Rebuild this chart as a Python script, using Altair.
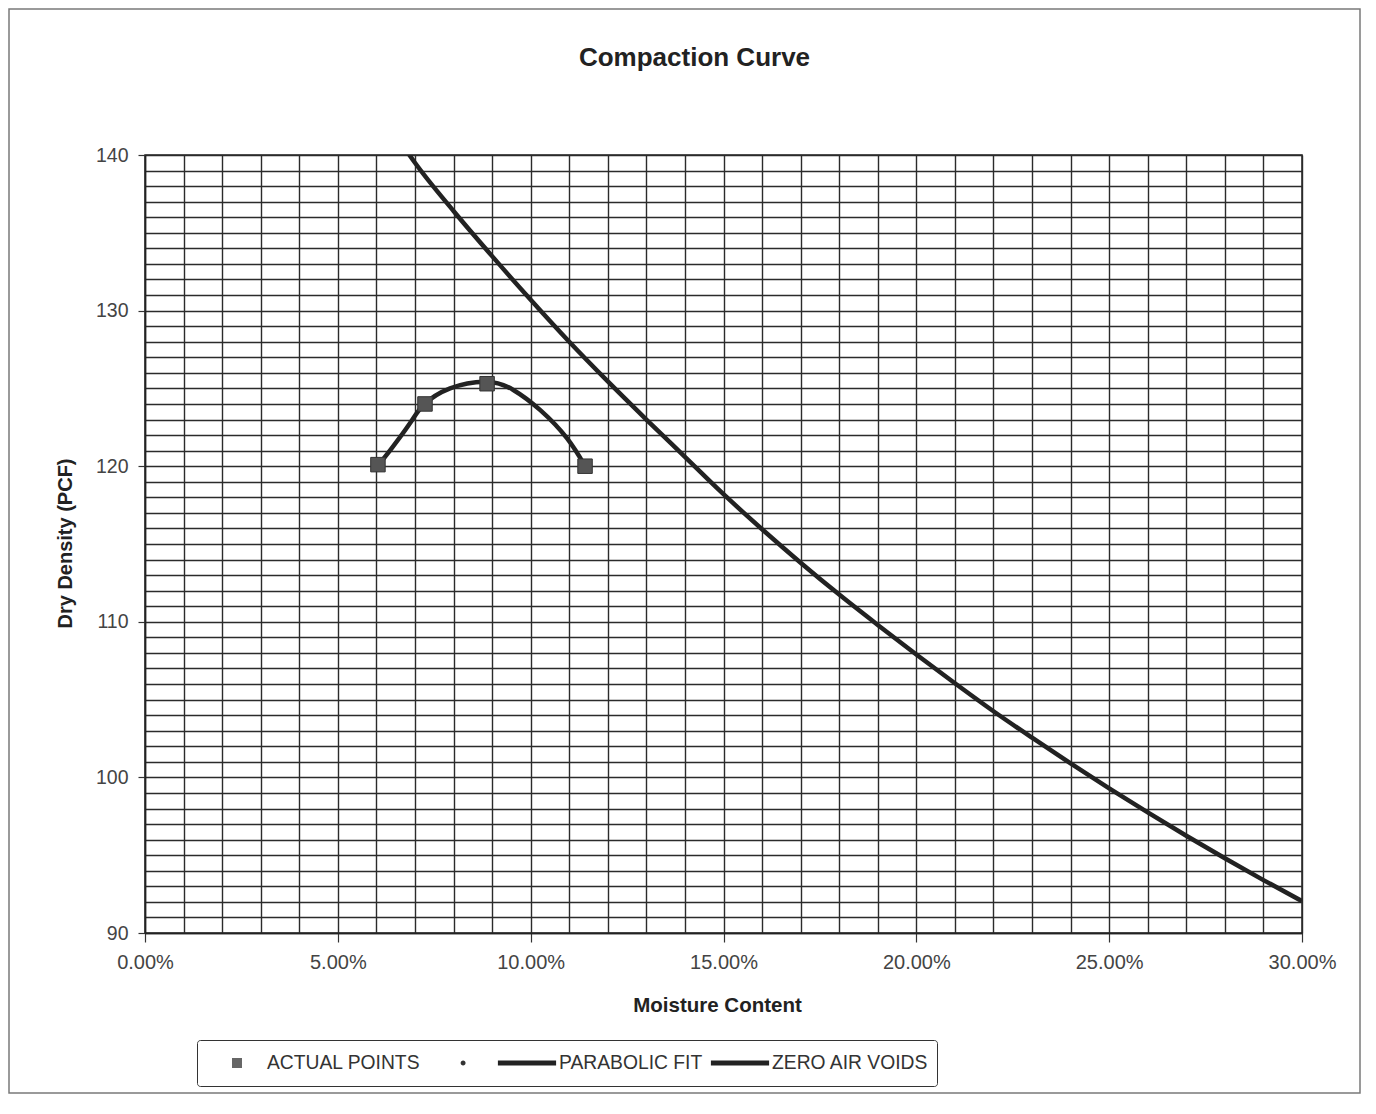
import altair as alt
import pandas as pd

# ---- data ----
actual_w = [0.0604, 0.0726, 0.0887, 0.1141]
actual_d = [120.1, 124.0, 125.3, 120.0]

fit_w = [0.0605, 0.0636, 0.0687, 0.0722, 0.0791, 0.0886, 0.0955, 0.1025, 0.1094, 0.1141]
fit_d = [120.08, 121.04, 122.76, 123.93, 125.0, 125.43, 124.9, 123.6, 121.8, 120.01]

zav_w = [0.068, 0.07, 0.08, 0.09, 0.10, 0.11, 0.12, 0.13, 0.14, 0.15, 0.16, 0.17,
         0.18, 0.19, 0.20, 0.21, 0.22, 0.23, 0.24, 0.25, 0.26, 0.27, 0.28, 0.29, 0.30]
zav_d = [140.2, 139.5, 136.4, 133.5, 130.7, 128.0, 125.45, 123.0, 120.6, 118.2, 115.95, 113.8,
         111.75, 109.8, 107.9, 106.05, 104.25, 102.55, 100.9, 99.3, 97.75, 96.25, 94.8, 93.4, 92.05]

legend_names = ["ACTUAL POINTS", " ", "PARABOLIC FIT", "ZERO AIR VOIDS"]
x_grid = [i / 100 for i in range(0, 31)]
y_grid = list(range(90, 141))

FONT = "Liberation Sans"
W, H = 1157, 778

pts = pd.DataFrame({"w": actual_w, "d": actual_d, "series": ["ACTUAL POINTS"] * len(actual_w)})
fit = pd.DataFrame({"w": fit_w, "d": fit_d})
zav = pd.DataFrame({"w": zav_w, "d": zav_d})
frame_df = pd.DataFrame({"k": [0]})

xscale = alt.Scale(domain=[0, 0.30], nice=False, zero=False)
yscale = alt.Scale(domain=[90, 140], nice=False, zero=False)

x_axis = alt.Axis(
    values=x_grid, format=".2%",
    labelExpr="round(datum.value*100) % 5 === 0 ? datum.label : ''",
    labelOverlap=False, labelFlush=False,
    grid=True, gridColor="#2b2b2b", gridWidth=1.4,
    tickColor="#333", tickSize=9, tickWidth=1.2,
    tickOpacity={"condition": {"test": "round(datum.value*100) % 5 === 0", "value": 1}, "value": 0},
    labelFont=FONT, labelFontSize=20, labelColor="#444", labelPadding=10,
    domainColor="#222", domainWidth=1.5,
    title="Moisture Content", titleFont=FONT, titleFontSize=20.5, titleFontWeight="bold",
    titleColor="#222", titleX=572, titleY=62, titleBaseline="top",
)
y_axis = alt.Axis(
    values=y_grid,
    labelExpr="datum.value % 10 === 0 ? datum.label : ''",
    labelOverlap=False, labelFlush=False,
    grid=True, gridColor="#2b2b2b", gridWidth=1.4,
    tickColor="#333", tickSize=7, tickWidth=1.2,
    tickOpacity={"condition": {"test": "datum.value % 10 === 0", "value": 1}, "value": 0},
    labelFont=FONT, labelFontSize=19.5, labelColor="#444", labelPadding=10,
    domainColor="#222", domainWidth=1.5,
    title="Dry Density (PCF)", titleFont=FONT, titleFontSize=20, titleFontWeight="bold",
    titleColor="#222", titleX=-80, titleY=388, titleBaseline="middle",
)

X = alt.X("w:Q", scale=xscale, axis=x_axis)
Y = alt.Y("d:Q", scale=yscale, axis=y_axis)

shape_paths = [
    "M-0.1,-0.167 L0.233,-0.167 L0.233,0.167 L-0.1,0.167 Z",
    "M0.087,0 A0.083,0.083 0 1,0 0.253,0 A0.083,0.083 0 1,0 0.087,0 Z",
    "M-0.97,-0.085 L0.97,-0.085 L0.97,0.085 L-0.97,0.085 Z",
    "M-0.97,-0.085 L0.97,-0.085 L0.97,0.085 L-0.97,0.085 Z",
]
legend = alt.Legend(
    title=None, orient="none", legendX=52, legendY=885, direction="horizontal",
    symbolSize=3600, symbolStrokeWidth=0, symbolOpacity=1, clipHeight=30,
    labelFont=FONT, labelFontSize=19.3, labelColor="#333", labelOffset=2,
    columnPadding=7, padding=8, labelLimit=400,
    strokeColor="#333", cornerRadius=3,
)

frame = alt.Chart(frame_df).mark_rect(fillOpacity=0, stroke="#7a7a7a", strokeWidth=1.5).encode(
    x=alt.value(-136), x2=alt.value(W + 58), y=alt.value(-146), y2=alt.value(H + 160)
)
zav_line = alt.Chart(zav).mark_line(color="#222", strokeWidth=4.5, clip=True,
                                    interpolate="monotone").encode(x=X, y=Y)
fit_line = alt.Chart(fit).mark_line(color="#222", strokeWidth=4.5, interpolate="natural").encode(x=X, y=Y)
points = alt.Chart(pts).mark_point(filled=True, shape="square", size=210, opacity=1,
                                   color="#555", stroke="#333", strokeWidth=1).encode(x=X, y=Y)
legend_layer = alt.Chart(pts).mark_point(filled=True, opacity=0).encode(
    x=X, y=Y,
    shape=alt.Shape("series:N", scale=alt.Scale(domain=legend_names, range=shape_paths), legend=legend),
    color=alt.Color("series:N", scale=alt.Scale(domain=legend_names,
                                                range=["#666666", "#333333", "#222222", "#222222"]),
                    legend=legend),
)

chart = alt.layer(frame, zav_line, fit_line, points, legend_layer).properties(
    width=W, height=H,
    autosize=alt.AutoSizeParams(type="none"),
    padding={"left": 137, "top": 147, "right": 60, "bottom": 163},
    title=alt.TitleParams("Compaction Curve", font=FONT, fontSize=26, fontWeight="bold",
                          color="#222", offset=-63, dx=-29, anchor="middle", frame="group"),
).configure_view(stroke="#222", strokeWidth=1.5)

chart.save("out.html", embed_options={"renderer": "svg", "actions": False})
